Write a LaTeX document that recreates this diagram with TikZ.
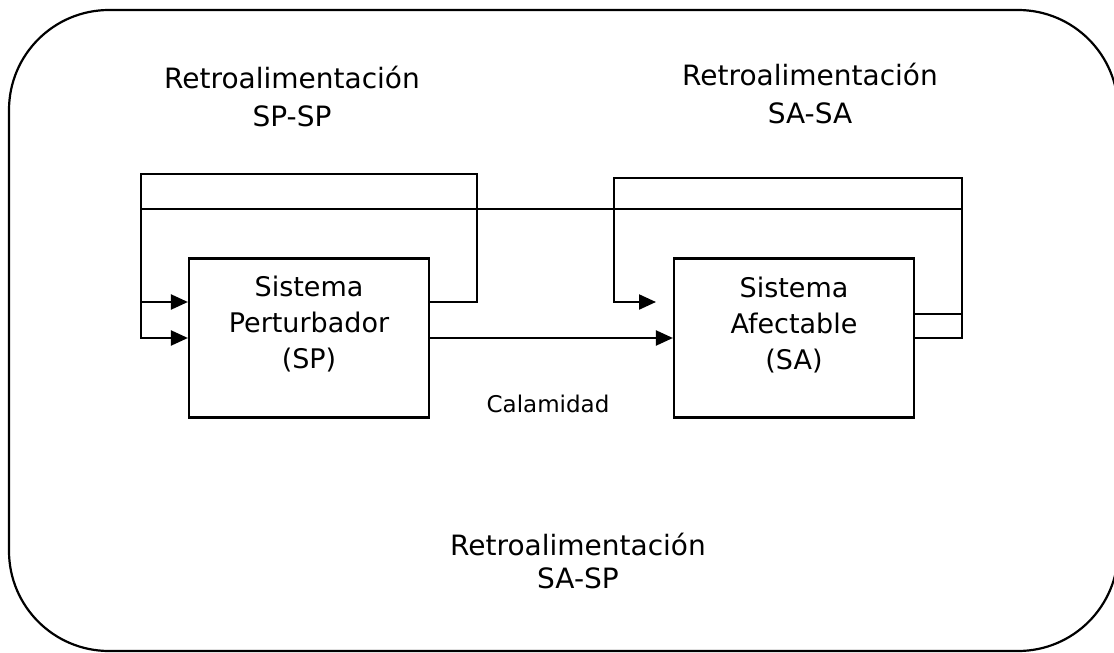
\documentclass[tikz,border=0pt]{standalone}
\usepackage{fontspec}
\setmainfont{DejaVu Sans}
\usetikzlibrary{arrows.meta}
\usetikzlibrary{positioning}
\usetikzlibrary{calc}
\tikzstyle{sysbox}=[draw,line width=2.2pt,minimum width=240pt,minimum height=159pt,inner sep=0pt]
\tikzstyle{boxtext}=[font=\fontsize{27}{36}\selectfont,align=center,inner sep=0pt,anchor=base]
\tikzstyle{fbtitle}=[font=\fontsize{28}{38}\selectfont,align=center,inner sep=0pt,anchor=base]
\tikzstyle{wire}=[draw,line width=2.2pt]
\tikzstyle{arrowwire}=[draw,line width=2.2pt,-{Triangle[length=17pt,width=15pt]}]

\begin{document}
\begin{tikzpicture}[x=1pt,y=-1pt]
    \useasboundingbox (0,0) rectangle (1114,653);
    \draw[line width=2.2pt, rounded corners=100pt] (9,10) rectangle (1118,651);

    % the two systems
    \node[sysbox] (SP) at (309,338) {};
    \node[sysbox] (SA) at (794,338) {};
    \node[boxtext] (SPtext) at (309,368) {Sistema\\Perturbador\\(SP)};
    \node[boxtext] (SAtext) at (794,369) {Sistema\\Afectable\\(SA)};

    % corners of the feedback loops
    \coordinate (spR) at (477,174);
    \coordinate (spL) at (141,174);
    \coordinate (saR) at (962,178);
    \coordinate (saL) at (614,178);
    \coordinate (saspR) at (962,209);
    \coordinate (saspL) at (141,209);
    \coordinate (saIn) at (656,302);

    \path[arrowwire] ([yshift=36pt]SP.east) -| (spR) -- (spL) |- ([yshift=36pt]SP.west);
    \path[arrowwire] (SA.east) -| (saspR) -- (saspL) |- (SP.west);
    \path[arrowwire] ([yshift=24pt]SA.east) -| (saR) -- (saL) |- (saIn);
    \path[arrowwire] (SP.east) -- (SA.west);

    \node[font=\fontsize{23}{28}\selectfont, inner sep=0pt, anchor=base] (cal) at (548,412) {Calamidad};

    \node[fbtitle] (tSPSP) at (292,126) {Retroalimentación\\SP-SP};
    \node[fbtitle] (tSASA) at (810,123) {Retroalimentación\\SA-SA};
    \node[fbtitle, font=\fontsize{28}{33}\selectfont] (tSASP) at (578,588) {Retroalimentación\\SA-SP};
\end{tikzpicture}
\end{document}
